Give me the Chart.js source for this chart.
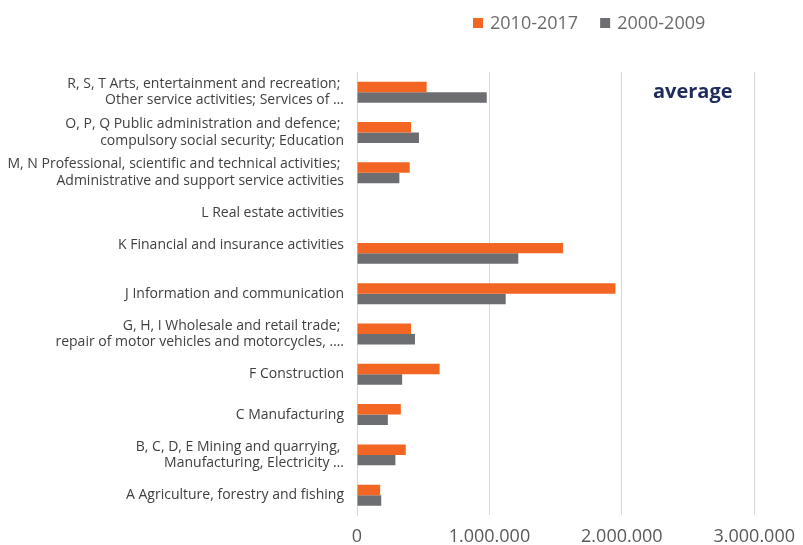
<!DOCTYPE html>
<html>
<head>
<meta charset="utf-8">
<title>Average by sector</title>
<script src="https://cdn.jsdelivr.net/npm/chart.js@4.4.1/dist/chart.umd.min.js"></script>
<style>
  html, body { margin: 0; padding: 0; background: #ffffff; }
  #wrap { width: 803px; height: 545px; position: relative; }
</style>
</head>
<body>
<div id="wrap"><canvas id="chart-sectors"></canvas></div>
<script>
// sectors, top to bottom
const sectors = [
  ['R, S, T Arts, entertainment and recreation; ', 'Other service activities; Services of \u2026'],
  ['O, P, Q Public administration and defence; ', 'compulsory social security; Education'],
  ['M, N Professional, scientific and technical activities; ', 'Administrative and support service activities'],
  'L Real estate activities',
  ['K Financial and insurance activities', ''],
  'J Information and communication',
  ['G, H, I Wholesale and retail trade; ', 'repair of motor vehicles and motorcycles, \u2026.'],
  'F Construction',
  'C Manufacturing',
  ['B, C, D, E Mining and quarrying, ', 'Manufacturing, Electricity \u2026'],
  'A Agriculture, forestry and fishing'
];

const seriesLabels = ['2010-2017', '2000-2009'];
const values2010_2017 = [526000, 408000, 398000, null, 1556000, 1952000, 408000, 624000, 331000, 368000, 175000];
const values2000_2009 = [980000, 468000, 320000, null, 1218000, 1123000, 438000, 341000, 233000, 290000, 183000];

const xTicks = [0, 1000000, 2000000, 3000000];
const noteText = 'average';

const ORANGE = '#f26522';
const GREY = '#6d6e71';

// 1.000.000 style thousands separator
function fmt(v) {
  return String(v).replace(/\B(?=(\d{3})+(?!\d))/g, '.');
}

// legend + "average" note drawn straight on the canvas
const extrasPlugin = {
  id: 'extras',
  afterDraw(chart) {
    const ctx = chart.ctx;
    ctx.save();
    ctx.font = '18px "Open Sans"';
    ctx.textBaseline = 'middle';
    ctx.textAlign = 'left';
    let x = 473;
    const y = 23;
    chart.data.datasets.forEach(ds => {
      ctx.fillStyle = ds.backgroundColor;
      ctx.fillRect(x, y - 5, 10, 10);
      ctx.fillStyle = '#6b6b6b';
      ctx.fillText(ds.label, x + 17, y + 1);
      x += 17 + ctx.measureText(ds.label).width + 22;
    });

    ctx.font = 'bold 20px "Open Sans"';
    ctx.fillStyle = '#1f2b5b';
    ctx.textBaseline = 'alphabetic';
    ctx.fillText(noteText, 653, 98);
    ctx.restore();
  }
};

const ctxBar = document.getElementById('chart-sectors');
new Chart(ctxBar, {
  type: 'bar',
  data: {
    labels: sectors,
    datasets: [
      { label: seriesLabels[0], data: values2010_2017, backgroundColor: ORANGE },
      { label: seriesLabels[1], data: values2000_2009, backgroundColor: GREY }
    ]
  },
  options: {
    indexAxis: 'y',
    responsive: true,
    maintainAspectRatio: false,
    animation: false,
    layout: { padding: { top: 72, right: 48, bottom: 0, left: 0 } },
    datasets: { bar: { barPercentage: 1, categoryPercentage: 0.52 } },
    plugins: {
      legend: { display: false },
      tooltip: { enabled: false }
    },
    scales: {
      x: {
        min: 0,
        max: 3000000,
        afterBuildTicks: scale => { scale.ticks = xTicks.map(v => ({ value: v })); },
        afterFit: scale => { scale.height = 27; },
        border: { display: false },
        grid: { color: '#d9d9d9', drawTicks: false, lineWidth: 1 },
        ticks: {
          padding: 8,
          color: '#595959',
          // slightly taller line box pushes the labels a little lower
          font: { family: 'Open Sans', size: 18, lineHeight: 1.45 },
          callback: v => fmt(v)
        }
      },
      y: {
        afterFit: scale => { scale.width = 357; },
        border: { display: true, color: '#d9d9d9' },
        grid: { display: false, drawTicks: false },
        ticks: {
          padding: 13,
          color: '#404040',
          font: { family: 'Open Sans', size: 14, lineHeight: 1.19 }
        }
      }
    }
  },
  plugins: [extrasPlugin]
});
</script>
</body>
</html>
